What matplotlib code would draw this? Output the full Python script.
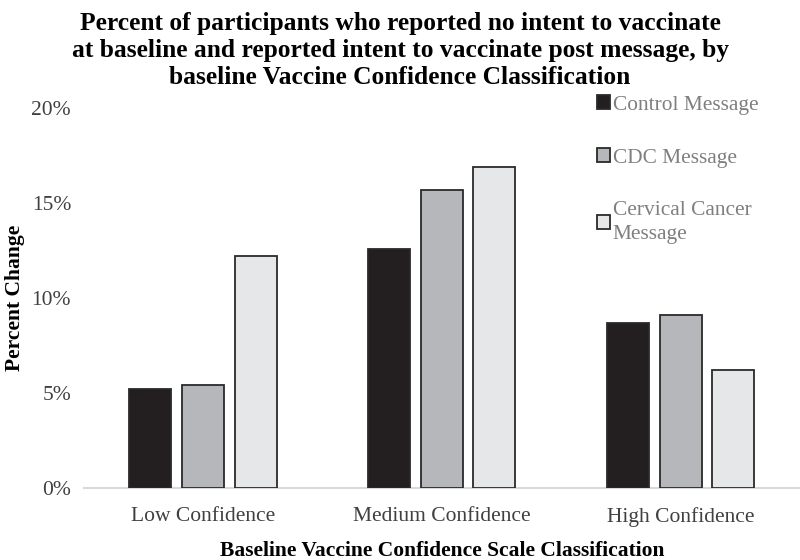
import numpy as np
import matplotlib.pyplot as plt
from matplotlib.ticker import PercentFormatter

plt.rcParams['font.family'] = ['Liberation Serif', 'DejaVu Serif']

# data (percent)
categories = ['Low Confidence', 'Medium Confidence', 'High Confidence']
series_names = ['Control Message', 'CDC Message', 'Cervical Cancer\nMessage']
control = [5.2, 12.6, 8.7]
cdc = [5.4, 15.7, 9.1]
cervical = [12.2, 16.9, 6.2]

colors = ['#231f20', '#b6b7ba', '#e6e7e8']

fig = plt.figure(figsize=(8, 5.6), dpi=100)
ax = fig.add_axes([0.1045, 0.129, 0.8955, 0.678])

x = np.arange(len(categories))
width = 0.176
step = 0.22
for i, (vals, name, col) in enumerate(zip([control, cdc, cervical], series_names, colors)):
    ax.bar(x + (i - 1) * step, vals, width, color=col, edgecolor='#2a2a2a',
           linewidth=1.3, label=name, zorder=3)

ax.set_xlim(-0.5, 2.5)
ax.set_ylim(0, 20)
ax.set_yticks([0, 5, 10, 15, 20])
ax.yaxis.set_major_formatter(PercentFormatter(decimals=0))
ax.set_xticks(x)
ax.set_xticklabels(categories)
ax.tick_params(length=0, labelsize=15.5, colors='#404040')
ax.tick_params(axis='x', pad=14)
ax.tick_params(axis='y', pad=9)

for s in ['top', 'right', 'left']:
    ax.spines[s].set_visible(False)
ax.spines['bottom'].set_color('#d9d9d9')
ax.spines['bottom'].set_linewidth(1.5)

ax.set_xlabel('Baseline Vaccine Confidence Scale Classification', fontsize=15.5,
              fontweight='bold', labelpad=10)
ax.set_ylabel('Percent Change', fontsize=15.5, fontweight='bold', labelpad=5)

fig.suptitle('Percent of participants who reported no intent to vaccinate\n'
             'at baseline and reported intent to vaccinate post message, by\n'
             'baseline Vaccine Confidence Classification',
             x=0.5, y=0.979, fontsize=18.4, fontweight='bold', linespacing=1.24)

leg = ax.legend(loc='upper left', bbox_to_anchor=(0.722, 0.864), bbox_transform=fig.transFigure,
                frameon=False, fontsize=15.4, handlelength=0.62, handleheight=0.62,
                handletextpad=0.12, labelspacing=1.57)
for t in leg.get_texts():
    t.set_color('#7f7f7f')
    t.set_linespacing(1.3)

fig.savefig('out.png', dpi=100)
